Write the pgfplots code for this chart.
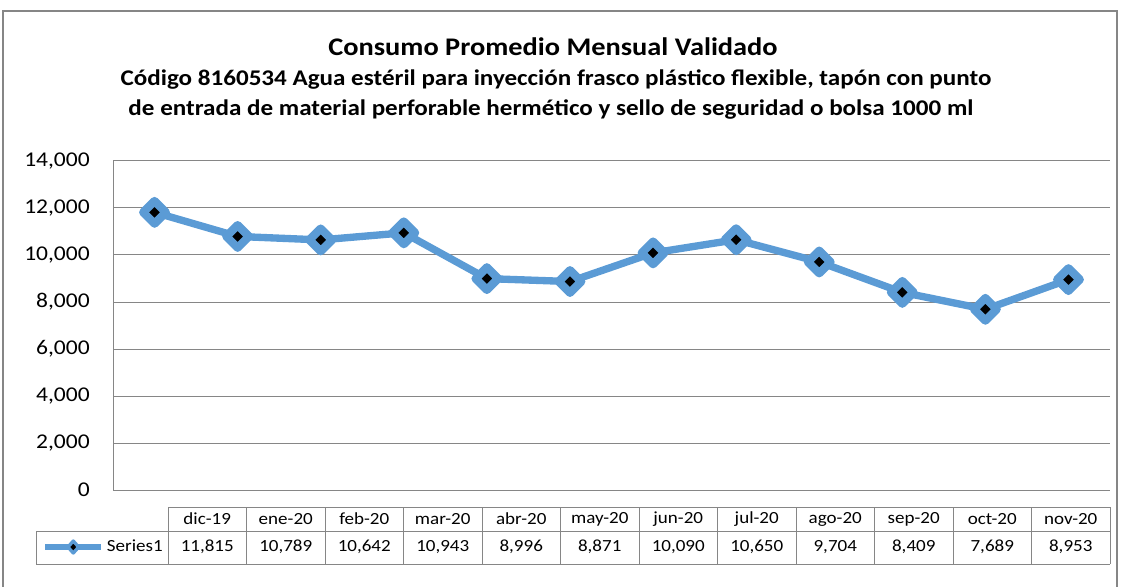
\documentclass[border=0pt]{standalone}
\usepackage{pgfplots}
\pgfplotsset{compat=1.18}
\usepackage{pgfplotstable}
\usepackage{fontspec}
\setmainfont{Carlito}[FakeStretch=1.12]
\definecolor{xlblue}{RGB}{91,155,213}
\definecolor{gridgray}{RGB}{134,134,134}

\pgfplotstableread{
idx mes val
0 dic-19 11815
1 ene-20 10789
2 feb-20 10642
3 mar-20 10943
4 abr-20 8996
5 may-20 8871
6 jun-20 10090
7 jul-20 10650
8 ago-20 9704
9 sep-20 8409
10 oct-20 7689
11 nov-20 8953
}\datatable

\begin{document}
\begin{tikzpicture}[x=0.75pt,y=0.75pt]
\useasboundingbox (0,0) rectangle (1123,586);
\draw[gridgray, line width=0.9pt] (3,-10) rectangle (1117,575);

\node[font=\bfseries\fontsize{19}{22}\selectfont] at (553,539) {Consumo Promedio Mensual Validado};
\node[font=\bfseries\fontsize{16.8}{19}\selectfont] at (556,506) {Código 8160534 Agua estéril para inyección frasco plástico flexible, tapón con punto};
\node[font=\bfseries\fontsize{16.8}{19}\selectfont] at (551,476) {de entrada de material perforable hermético y sello de seguridad o bolsa 1000 ml};

% data table grid
\foreach \k in {0,...,12} \draw[gridgray, line width=0.75pt] ({168+78.5*\k},22) -- ({168+78.5*\k},79);
\draw[gridgray, line width=0.75pt] (168,79) -- (1110,79);
\draw[gridgray, line width=0.75pt] (36,55) -- (1110,55);
\draw[gridgray, line width=0.75pt] (36,22) -- (1110,22);
\draw[gridgray, line width=0.75pt] (36,22) -- (36,55);

\begin{axis}[
  at={(84.75pt,72pt)}, anchor=south west,
  scale only axis, width=747.75pt, height=246.75pt,
  xmin=-0.5, xmax=11.5, ymin=0, ymax=14000,
  ytick={0,2000,...,14000}, xtick=\empty,
  scaled y ticks=false,
  yticklabel style={/pgf/number format/fixed, /pgf/number format/1000 sep={,}, /pgf/number format/assume math mode=true},
  ymajorgrids, grid style={gridgray, line width=0.75pt},
  axis x line*=bottom, axis y line*=left,
  axis line style={gridgray, line width=0.75pt},
  major tick length=0pt,
  y tick label style={font=\fontsize{15.75}{18}\selectfont, inner sep=0pt, xshift=-17.25pt},
  clip=false,
  legend style={at={(-0.0712,-0.1733)}, anchor=west, draw=none, fill=none, inner sep=0pt,
    font=\fontsize{12.75}{15}\selectfont},
  legend image code/.code={
    \draw[xlblue, line width=4.5pt] (0pt,0pt) -- (42pt,0pt);
    \draw[xlblue, line width=2.5pt, fill=black, line join=round] (21pt,-4.5pt) -- (25pt,0pt) -- (21pt,4.5pt) -- (17pt,0pt) -- cycle;
  },
]
\addplot[xlblue, line width=5.5pt, line join=round, mark=square*, mark size=6pt,
  mark options={rotate=45, fill=black, draw=xlblue, line width=6.2pt, line join=round, solid}]
  table[x=idx, y=val] {\datatable};
\addlegendentry{Series1}
\end{axis}

\begin{axis}[
  at={(126pt,16.5pt)}, anchor=south west,
  scale only axis, width=706.5pt, height=42.75pt,
  xmin=-0.5, xmax=11.5, ymin=0, ymax=57,
  axis lines=none, clip=false,
]
\addplot[draw=none, mark=none, point meta=explicit, nodes near coords,
  nodes near coords style={anchor=center, inner sep=0pt, font=\fontsize{12.75}{15}\selectfont,
    /pgf/number format/fixed, /pgf/number format/1000 sep={,}, /pgf/number format/assume math mode=true}]
  table[x=idx, y expr=17, meta=val] {\datatable};
\addplot[draw=none, mark=none, point meta=explicit symbolic,
  nodes near coords={\pgfplotspointmeta},
  nodes near coords style={anchor=center, inner sep=0pt, font=\fontsize{12.75}{15}\selectfont}]
  table[x=idx, y expr=45, meta=mes] {\datatable};
\end{axis}
\end{tikzpicture}
\end{document}
